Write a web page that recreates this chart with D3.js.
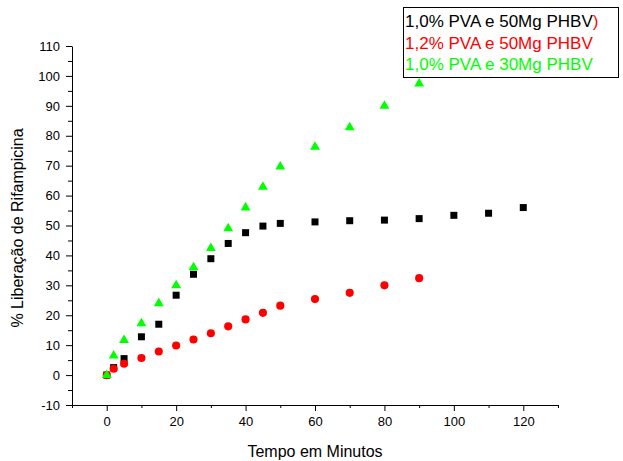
<!DOCTYPE html>
<html>
<head>
<meta charset="utf-8">
<script src="https://cdn.jsdelivr.net/npm/d3@7"></script>
<style>
  body { margin: 0; background: #fff; }
  svg text { font-family: "Liberation Sans", Arial, sans-serif; }
</style>
</head>
<body>
<svg id="chart" width="623" height="461"></svg>
<script>
// time in minutes
const times = [0, 2, 5, 10, 15, 20, 25, 30, 35, 40, 45, 50, 60, 70, 80, 90];
const timesLong = [0, 2, 5, 10, 15, 20, 25, 30, 35, 40, 45, 50, 60, 70, 80, 90, 100, 110, 120];

// % liberação
const pva10mg50 = [0, 2.5, 5.5, 12.8, 17, 26.7, 33.7, 38.9, 44, 47.6, 49.8, 50.7, 51.2, 51.6, 51.8, 52.3, 53.4, 54.1, 56];
const pva12mg50 = [0, 2.1, 3.8, 5.7, 7.9, 9.9, 11.9, 14, 16.3, 18.6, 20.8, 23.2, 25.4, 27.5, 30, 32.4];
const pva10mg30 = [0, 6.5, 11.7, 17.3, 24, 30, 36, 42.4, 49, 56, 62.9, 69.7, 76.3, 82.8, 90, 97.4];

const legendLabels = ["1,0% PVA e 50Mg PHBV", "1,2% PVA e 50Mg PHBV", "1,0% PVA e 30Mg PHBV"];

const xMajor = [0, 20, 40, 60, 80, 100, 120];
const xMinor = [-10, 10, 30, 50, 70, 90, 110, 130];
const yMajor = [-10, 0, 10, 20, 30, 40, 50, 60, 70, 80, 90, 100, 110];
const yMinor = [-5, 5, 15, 25, 35, 45, 55, 65, 75, 85, 95, 105];

const svg = d3.select("#chart");

const x = d3.scaleLinear().domain([-10, 130]).range([72, 558]);
const y = d3.scaleLinear().domain([-10, 110]).range([405, 46]);

// plain hyphen for negatives, like the original
const fmt = d => String(d);

// axes
svg.append("g")
    .attr("transform", `translate(0,${y(-10)})`)
    .call(d3.axisBottom(x).tickValues(xMajor).tickSize(6).tickSizeOuter(0).tickPadding(6).tickFormat(fmt));
svg.append("g")
    .attr("transform", `translate(0,${y(-10)})`)
    .call(d3.axisBottom(x).tickValues(xMinor).tickSize(3).tickSizeOuter(0).tickFormat(""))
    .select(".domain").remove();

svg.append("g")
    .attr("transform", `translate(${x(-10)},0)`)
    .call(d3.axisLeft(y).tickValues(yMajor).tickSize(6).tickSizeOuter(0).tickPadding(6).tickFormat(fmt));
svg.append("g")
    .attr("transform", `translate(${x(-10)},0)`)
    .call(d3.axisLeft(y).tickValues(yMinor).tickSize(4).tickSizeOuter(0).tickFormat(""))
    .select(".domain").remove();

svg.selectAll(".tick text")
    .attr("font-size", 13)
    .attr("fill", "#000")
    .style("font-family", "'Liberation Sans', Arial, sans-serif");
svg.selectAll(".domain, .tick line").attr("stroke", "#000");

// axis titles
svg.append("text")
    .attr("x", (x(-10) + x(130)) / 2)
    .attr("y", 457)
    .attr("text-anchor", "middle")
    .attr("font-size", 16)
    .text("Tempo em Minutos");

svg.append("text")
    .attr("transform", `translate(23,228) rotate(-90)`)
    .attr("text-anchor", "middle")
    .attr("font-size", 16)
    .text("% Liberação de Rifampicina");

// points
const series = [
  { t: timesLong, v: pva10mg50, color: "#000000", shape: d3.symbolSquare, size: 49 },
  { t: times, v: pva12mg50, color: "#ff0000", shape: d3.symbolCircle, size: 52 },
  { t: times, v: pva10mg30, color: "#00ff00", shape: d3.symbolTriangle, size: 42 }
];

series.forEach(s => {
  svg.append("g")
    .selectAll("path")
    .data(s.t.map((t, i) => [t, s.v[i]]))
    .join("path")
      .attr("transform", d => `translate(${x(d[0])},${y(d[1])})`)
      .attr("d", d3.symbol().type(s.shape).size(s.size))
      .attr("fill", s.color);
});

// legend
const legend = svg.append("g");
legend.append("rect")
    .attr("x", 403.5)
    .attr("y", 7.5)
    .attr("width", 215)
    .attr("height", 70)
    .attr("fill", "#fff")
    .attr("stroke", "#000");

const legendText = legend.selectAll("text")
  .data(legendLabels)
  .join("text")
    .attr("x", 405)
    .attr("y", (d, i) => 27 + i * 21.5)
    .attr("font-size", 17)
    .attr("fill", (d, i) => series[i].color)
    .text(d => d);

legendText.filter((d, i) => i === 0)
  .append("tspan")
    .attr("fill", "#ff0000")
    .text(")");
</script>
</body>
</html>
